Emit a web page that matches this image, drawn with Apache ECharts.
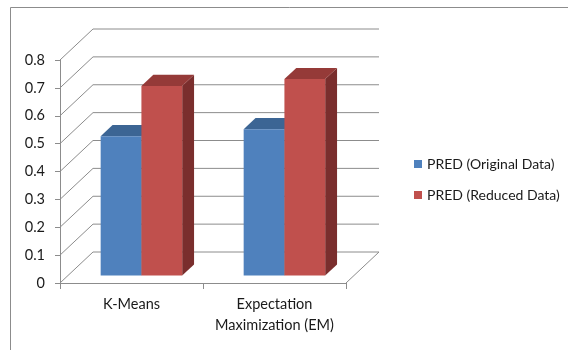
<!DOCTYPE html>
<html>
<head>
<meta charset="utf-8">
<script src="https://cdn.jsdelivr.net/npm/echarts@6/dist/echarts.min.js"></script>
<style>
  html, body { margin: 0; padding: 0; background: #fff; }
  #chart { width: 568px; height: 350px; }
</style>
</head>
<body>
<div id="chart"></div>
<script>
// Data
const categories = ['K-Means', 'Expectation\nMaximization (EM)'];
const seriesNames = ['PRED (Original Data)', 'PRED (Reduced Data)'];
const predOriginal = [0.50, 0.525];
const predReduced = [0.68, 0.705];
const yTicks = [0, 0.1, 0.2, 0.3, 0.4, 0.5, 0.6, 0.7, 0.8];

// 3D look: depth offset of the back wall (pixels) and the bars' slot within the depth
const DEPTH_X = 33, DEPTH_Y = -31;
const BAR_FRONT = 0.24, BAR_BACK = 0.60;
const BAR_SHIFT_X = 2;          // small sideways nudge of the bar pairs
const BAR_WIDTH_FRAC = 0.285;   // each bar as a fraction of one category band

const faceColors = [
  { front: '#4F81BD', top: '#3C6594', side: '#2F5078' },
  { front: '#C0504D', top: '#953A38', side: '#7A2E2D' }
];

const chart = echarts.init(document.getElementById('chart'), null, { renderer: 'canvas' });

function gridRender(params, api) {
  const v = api.value(0);
  const cs = params.coordSys;
  const y = api.coord([0, v])[1];
  const x0 = cs.x, x1 = cs.x + cs.width;
  const style = { stroke: '#8C8C8C', lineWidth: 1 };
  const children = [
    { type: 'line', shape: { x1: x0, y1: y, x2: x0 + DEPTH_X, y2: y + DEPTH_Y }, style },
    { type: 'line', shape: { x1: x0 + DEPTH_X, y1: y + DEPTH_Y, x2: x1 + DEPTH_X, y2: y + DEPTH_Y }, style }
  ];
  if (v === 0) {
    children.push({ type: 'line', shape: { x1: x1, y1: y, x2: x1 + DEPTH_X, y2: y + DEPTH_Y }, style });
  }
  return { type: 'group', children };
}

function barRender(seriesIndex) {
  return function (params, api) {
    const cat = api.value(0);
    const val = api.value(1);
    const band = api.size([1, 0])[0];
    const base = api.coord([cat, 0]);
    const topPt = api.coord([cat, val]);
    const w = band * BAR_WIDTH_FRAC;
    const fx = BAR_FRONT * DEPTH_X + BAR_SHIFT_X, fy = BAR_FRONT * DEPTH_Y;
    const dx = (BAR_BACK - BAR_FRONT) * DEPTH_X, dy = (BAR_BACK - BAR_FRONT) * DEPTH_Y;
    const left = base[0] + fx + (seriesIndex === 0 ? -w : 0);
    const right = left + w;
    const yb = base[1] + fy;
    const yt = topPt[1] + fy;
    const c = faceColors[seriesIndex];
    return {
      type: 'group',
      children: [
        { type: 'polygon', shape: { points: [[right, yt], [right + dx, yt + dy], [right + dx, yb + dy], [right, yb]] }, style: { fill: c.side } },
        { type: 'polygon', shape: { points: [[left, yt], [left + dx, yt + dy], [right + dx, yt + dy], [right, yt]] }, style: { fill: c.top } },
        { type: 'rect', shape: { x: left, y: yt, width: w, height: yb - yt }, style: { fill: c.front } }
      ]
    };
  };
}

const FONT = 'Lato, "Open Sans", sans-serif';

chart.setOption({
  animation: false,
  backgroundColor: '#fff',
  textStyle: { fontFamily: FONT },
  graphic: [
    { type: 'rect', shape: { x: 10.5, y: 7.5, width: 700, height: 500 }, style: { fill: 'none', stroke: '#8C8C8C', lineWidth: 1 }, silent: true, z: -10 }
  ],
  legend: {
    orient: 'vertical',
    left: 409,
    top: 152,
    itemWidth: 8,
    itemHeight: 8,
    itemGap: 17,
    icon: 'rect',
    textStyle: { fontFamily: FONT, fontSize: 14, color: '#1a1a1a' },
    data: seriesNames
  },
  grid: { left: 60, right: 222, top: 60, bottom: 67, containLabel: false },
  xAxis: {
    type: 'category',
    data: categories,
    boundaryGap: true,
    axisLine: { show: true, lineStyle: { color: '#8C8C8C' } },
    axisTick: { show: true, length: 6, lineStyle: { color: '#8C8C8C' } },
    axisLabel: { interval: 0, hideOverlap: false, color: '#1a1a1a', fontSize: 14.5, fontFamily: FONT, margin: 11, lineHeight: 21 }
  },
  yAxis: {
    type: 'value',
    min: 0,
    max: 0.8,
    interval: 0.1,
    axisLine: { show: true, lineStyle: { color: '#8C8C8C' } },
    axisTick: { show: true, length: 5, lineStyle: { color: '#8C8C8C' } },
    splitLine: { show: false },
    axisLabel: { color: '#1a1a1a', fontSize: 14.5, fontFamily: FONT, margin: 15 }
  },
  series: [
    {
      type: 'custom',
      name: 'grid',
      renderItem: gridRender,
      data: yTicks.map(v => [v]),
      encode: { y: 0 },
      silent: true,
      z: 1
    },
    {
      type: 'custom',
      name: seriesNames[0],
      itemStyle: { color: faceColors[0].front },
      renderItem: barRender(0),
      data: predOriginal.map((v, i) => [i, v]),
      encode: { x: 0, y: 1 },
      z: 3
    },
    {
      type: 'custom',
      name: seriesNames[1],
      itemStyle: { color: faceColors[1].front },
      renderItem: barRender(1),
      data: predReduced.map((v, i) => [i, v]),
      encode: { x: 0, y: 1 },
      z: 4
    }
  ]
});
</script>
</body>
</html>
